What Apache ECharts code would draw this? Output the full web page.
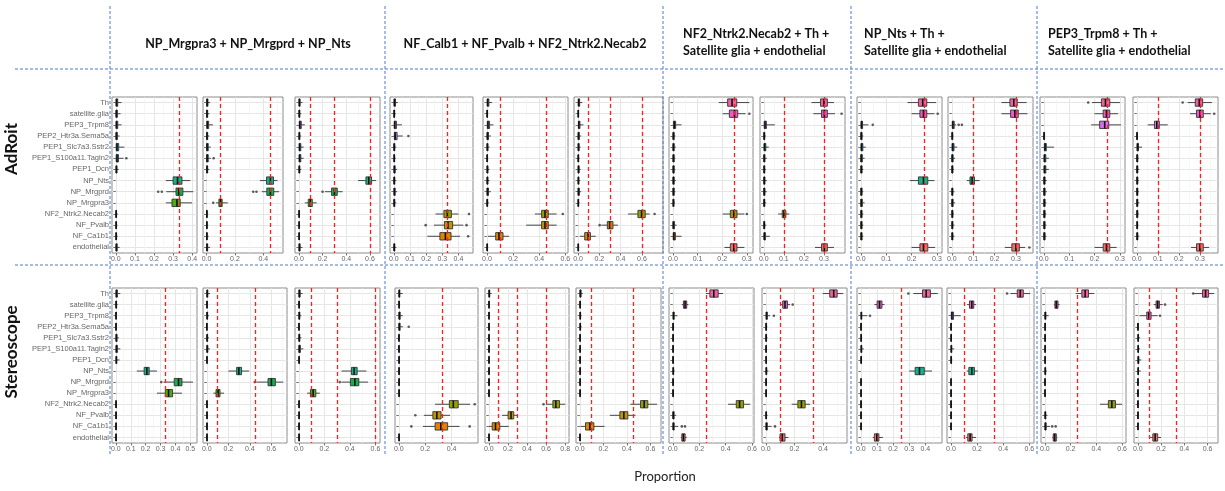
<!DOCTYPE html>
<html><head><meta charset="utf-8">
<script src="https://cdn.jsdelivr.net/npm/echarts@6/dist/echarts.min.js"></script>
<style>html,body{margin:0;padding:0;background:#fff}#c{width:1225px;height:491px}</style>
</head><body><div id="c"></div>
<script>
// ---------------- DATA ----------------
const cellTypes = ['Th','satellite.glia','PEP3_Trpm8','PEP2_Htr3a.Sema5a','PEP1_Slc7a3.Sstr2','PEP1_S100a11.Tagln2','PEP1_Dcn','NP_Nts','NP_Mrgprd','NP_Mrgpra3','NF2_Ntrk2.Necab2','NF_Pvalb','NF_Ca1b1','endothelial'];
const rowNames = ['AdRoit','Stereoscope'];
const groupTitles = [
  'NP_Mrgpra3 + NP_Mrgprd + NP_Nts',
  'NF_Calb1 + NF_Pvalb + NF2_Ntrk2.Necab2',
  'NF2_Ntrk2.Necab2 + Th +\nSatellite glia + endothelial',
  'NP_Nts + Th +\nSatellite glia + endothelial',
  'PEP3_Trpm8 + Th +\nSatellite glia + endothelial'
];
const axisTitle = 'Proportion';

// five-number summaries [min, Q1, median, Q3, max], rows top→bottom in cellTypes order
const adroitP1 = [[0,0.001,0.004,0.01,0.03],[0,0.001,0.003,0.008,0.025],[0,0.001,0.004,0.01,0.03],[0,0.001,0.003,0.008,0.02],[0,0.002,0.006,0.015,0.045],[0,0.002,0.006,0.014,0.04],[0,0.001,0.003,0.006,0.015],[0.262,0.30,0.323,0.346,0.39],[0.264,0.315,0.329,0.351,0.405],[0.262,0.294,0.32,0.337,0.399],[0,0,0.002,0.004,0.01],[0,0,0.002,0.004,0.008],[0,0,0.002,0.004,0.01],[0,0.001,0.003,0.007,0.02]];
const adroitP2 = [[0,0.001,0.004,0.01,0.025],[0,0.001,0.003,0.008,0.02],[0,0.002,0.006,0.015,0.045],[0,0.001,0.003,0.008,0.02],[0,0.001,0.004,0.012,0.03],[0,0.001,0.004,0.012,0.03],[0,0.001,0.003,0.008,0.02],[0.376,0.423,0.45,0.472,0.5],[0.39,0.425,0.45,0.474,0.512],[0.066,0.087,0.099,0.11,0.15],[0,0,0.002,0.005,0.012],[0,0,0.002,0.005,0.012],[0,0,0.002,0.005,0.015],[0,0.001,0.003,0.008,0.025]];
const adroitP3 = [[0,0.001,0.004,0.01,0.03],[0,0.001,0.003,0.008,0.02],[0,0.003,0.008,0.02,0.05],[0,0.001,0.003,0.008,0.02],[0,0.002,0.006,0.016,0.04],[0,0.002,0.006,0.016,0.04],[0,0.001,0.003,0.008,0.02],[0.50,0.566,0.59,0.614,0.652],[0.22,0.276,0.3,0.324,0.369],[0.05,0.079,0.096,0.113,0.15],[0,0,0.002,0.004,0.01],[0,0,0.002,0.004,0.01],[0,0,0.002,0.004,0.01],[0,0.001,0.004,0.01,0.03]];
const adroitP4 = [[0,0.001,0.004,0.01,0.025],[0,0,0.002,0.005,0.012],[0,0.002,0.006,0.016,0.05],[0,0.003,0.008,0.02,0.055],[0,0,0.002,0.006,0.015],[0,0,0.002,0.005,0.012],[0,0.001,0.003,0.008,0.02],[0,0,0.002,0.006,0.015],[0,0.001,0.003,0.008,0.02],[0,0,0.002,0.006,0.015],[0.258,0.31,0.331,0.356,0.4],[0.248,0.313,0.335,0.364,0.43],[0.207,0.285,0.319,0.354,0.41],[0,0,0.002,0.006,0.015]];
const adroitP5 = [[0,0.002,0.006,0.015,0.04],[0,0,0.002,0.005,0.01],[0,0.003,0.008,0.02,0.05],[0,0.001,0.004,0.012,0.03],[0,0.001,0.003,0.008,0.02],[0,0,0.002,0.005,0.01],[0,0.001,0.003,0.008,0.02],[0,0.001,0.003,0.008,0.02],[0,0.001,0.004,0.012,0.03],[0,0,0.002,0.006,0.015],[0.367,0.418,0.444,0.469,0.533],[0.30,0.418,0.444,0.469,0.533],[0.008,0.067,0.092,0.123,0.169],[0,0,0.002,0.005,0.01]];
const adroitP6 = [[0,0.002,0.006,0.015,0.04],[0,0,0.002,0.005,0.01],[0,0.003,0.008,0.018,0.05],[0,0.001,0.004,0.012,0.03],[0,0.001,0.004,0.01,0.025],[0,0,0.002,0.006,0.015],[0,0.001,0.004,0.01,0.025],[0,0.001,0.003,0.008,0.02],[0,0.001,0.004,0.012,0.03],[0,0,0.002,0.006,0.015],[0.469,0.5625,0.597,0.631,0.672],[0.219,0.275,0.297,0.328,0.375],[0.016,0.0625,0.094,0.116,0.166],[0,0,0.002,0.005,0.01]];
const adroitP7 = [[0.186,0.222,0.24,0.259,0.31],[0.202,0.229,0.25,0.263,0.295],[0,0.002,0.006,0.011,0.035],[0,0,0.002,0.005,0.01],[0,0,0.002,0.005,0.012],[0,0,0.002,0.005,0.01],[0,0,0.002,0.005,0.01],[0,0,0.002,0.005,0.012],[0,0,0.002,0.005,0.01],[0,0,0.002,0.004,0.008],[0.202,0.233,0.247,0.26,0.29],[0,0,0.002,0.006,0.015],[0,0.001,0.004,0.01,0.035],[0.209,0.233,0.247,0.26,0.29]];
const adroitP8 = [[0.238,0.283,0.3,0.317,0.35],[0.247,0.288,0.302,0.317,0.355],[0,0.002,0.006,0.013,0.055],[0,0,0.002,0.005,0.01],[0,0.001,0.004,0.01,0.025],[0,0,0.002,0.006,0.015],[0,0,0.002,0.005,0.01],[0,0,0.002,0.006,0.015],[0,0,0.002,0.006,0.015],[0,0,0.002,0.005,0.012],[0.072,0.092,0.1,0.11,0.127],[0,0,0.002,0.005,0.012],[0,0.001,0.003,0.008,0.03],[0.255,0.288,0.302,0.317,0.35]];
const adroitP9 = [[0.184,0.227,0.244,0.26,0.297],[0.2,0.233,0.247,0.26,0.29],[0,0.001,0.003,0.007,0.03],[0,0,0.002,0.005,0.01],[0,0.001,0.003,0.008,0.02],[0,0,0.002,0.006,0.015],[0,0,0.002,0.005,0.01],[0.193,0.227,0.247,0.264,0.29],[0,0,0.002,0.005,0.01],[0,0,0.002,0.006,0.015],[0,0,0.002,0.005,0.01],[0,0,0.002,0.005,0.01],[0,0,0.002,0.005,0.01],[0.2,0.233,0.247,0.264,0.293]];
const adroitP10 = [[0.232,0.272,0.29,0.306,0.35],[0.232,0.275,0.295,0.311,0.354],[0,0.002,0.005,0.011,0.02],[0,0,0.002,0.004,0.008],[0,0.001,0.004,0.01,0.025],[0,0,0.002,0.006,0.015],[0,0,0.002,0.005,0.01],[0.07,0.085,0.095,0.106,0.13],[0,0,0.002,0.005,0.012],[0,0,0.002,0.006,0.015],[0,0,0.002,0.005,0.01],[0,0,0.002,0.005,0.012],[0,0,0.002,0.005,0.012],[0.248,0.281,0.3,0.316,0.343]];
const adroitP11 = [[0.19,0.227,0.243,0.26,0.3],[0.2,0.234,0.247,0.26,0.293],[0.187,0.22,0.24,0.256,0.304],[0,0,0.001,0.003,0.005],[0,0.002,0.005,0.01,0.04],[0,0.001,0.003,0.008,0.02],[0,0.001,0.003,0.008,0.02],[0,0,0.002,0.005,0.012],[0,0,0.002,0.005,0.012],[0,0,0.002,0.005,0.01],[0,0,0.002,0.005,0.01],[0,0,0.002,0.005,0.01],[0,0,0.002,0.005,0.01],[0.2,0.234,0.247,0.26,0.287]];
const adroitP12 = [[0.242,0.278,0.297,0.313,0.357],[0.253,0.284,0.3,0.316,0.352],[0.052,0.084,0.095,0.107,0.147],[0,0,0.001,0.003,0.005],[0,0.001,0.004,0.008,0.025],[0,0,0.002,0.005,0.01],[0,0,0.002,0.005,0.012],[0,0,0.002,0.005,0.01],[0,0,0.002,0.005,0.01],[0,0,0.002,0.005,0.012],[0,0,0.002,0.005,0.01],[0,0,0.002,0.004,0.008],[0,0,0.002,0.005,0.012],[0.258,0.284,0.3,0.316,0.344]];

const stereoP1 = [[0,0.001,0.004,0.01,0.03],[0,0,0.002,0.005,0.012],[0,0,0.001,0.003,0.005],[0,0,0.001,0.003,0.005],[0,0.001,0.003,0.008,0.02],[0,0.001,0.004,0.01,0.03],[0,0.001,0.003,0.006,0.025],[0.141,0.19,0.208,0.224,0.276],[0.32,0.392,0.421,0.444,0.518],[0.276,0.332,0.354,0.381,0.444],[0,0,0.001,0.003,0.005],[0,0,0.001,0.003,0.005],[0,0,0.001,0.003,0.005],[0,0,0.001,0.003,0.005]];
const stereoP2 = [[0,0.001,0.004,0.01,0.03],[0,0,0.002,0.005,0.012],[0,0.001,0.003,0.008,0.02],[0,0,0.001,0.003,0.005],[0,0.001,0.003,0.008,0.02],[0,0.001,0.004,0.01,0.03],[0,0,0.002,0.005,0.01],[0.2,0.277,0.298,0.323,0.394],[0.46,0.569,0.6,0.637,0.71],[0.062,0.086,0.105,0.123,0.16],[0,0,0.002,0.005,0.01],[0,0,0.002,0.005,0.01],[0,0,0.002,0.005,0.01],[0,0,0.002,0.005,0.01]];
const stereoP3 = [[0,0.001,0.004,0.01,0.03],[0,0,0.002,0.005,0.012],[0,0.001,0.003,0.008,0.02],[0,0,0.001,0.003,0.005],[0,0.001,0.003,0.008,0.02],[0,0.001,0.004,0.012,0.035],[0,0,0.002,0.005,0.01],[0.334,0.412,0.433,0.457,0.53],[0.334,0.404,0.439,0.47,0.543],[0.065,0.091,0.112,0.133,0.164],[0,0,0.002,0.005,0.01],[0,0,0.002,0.005,0.01],[0,0,0.002,0.005,0.01],[0,0,0.002,0.005,0.01]];
const stereoP4 = [[0,0.001,0.003,0.008,0.03],[0,0,0.002,0.005,0.01],[0,0.001,0.004,0.01,0.03],[0,0.001,0.003,0.01,0.03],[0,0,0.001,0.003,0.005],[0,0,0.001,0.003,0.005],[0,0,0.002,0.004,0.008],[0,0,0.002,0.004,0.008],[0,0,0.002,0.004,0.008],[0,0,0.002,0.004,0.008],[0.275,0.383,0.413,0.45,0.54],[0.19,0.258,0.288,0.32,0.388],[0.183,0.275,0.318,0.37,0.46],[0,0,0.002,0.004,0.008]];
const stereoP5 = [[0,0.001,0.004,0.01,0.03],[0,0,0.002,0.005,0.01],[0,0,0.002,0.005,0.01],[0,0,0.002,0.005,0.01],[0,0,0.002,0.004,0.008],[0,0,0.002,0.004,0.008],[0,0,0.002,0.004,0.008],[0,0,0.002,0.004,0.008],[0,0,0.002,0.004,0.008],[0,0,0.002,0.004,0.008],[0.6,0.671,0.702,0.741,0.8],[0.139,0.202,0.233,0.261,0.303],[0,0.035,0.07,0.115,0.209],[0,0,0.002,0.004,0.008]];
const stereoP6 = [[0,0.001,0.004,0.01,0.025],[0,0,0.002,0.005,0.01],[0,0.001,0.003,0.006,0.015],[0,0.001,0.003,0.006,0.015],[0,0,0.002,0.004,0.008],[0,0,0.002,0.004,0.008],[0,0,0.002,0.004,0.008],[0,0,0.002,0.005,0.01],[0,0,0.002,0.004,0.008],[0,0,0.002,0.004,0.008],[0.43,0.516,0.547,0.578,0.657],[0.255,0.34,0.374,0.408,0.473],[0.006,0.048,0.085,0.119,0.21],[0,0,0.001,0.003,0.005]];
const stereoP7 = [[0.25,0.28,0.31,0.343,0.38],[0.068,0.08,0.0925,0.105,0.118],[0,0.002,0.005,0.01,0.035],[0,0,0.002,0.005,0.01],[0,0,0.002,0.004,0.008],[0,0,0.002,0.004,0.008],[0,0,0.002,0.004,0.008],[0,0.001,0.003,0.006,0.015],[0,0,0.002,0.004,0.008],[0,0,0.002,0.004,0.008],[0.418,0.48,0.505,0.535,0.585],[0,0.001,0.003,0.01,0.025],[0,0.001,0.004,0.01,0.04],[0.06,0.068,0.08,0.093,0.105]];
const stereoP8 = [[0.398,0.447,0.475,0.499,0.541],[0.099,0.118,0.134,0.151,0.169],[0,0.002,0.005,0.01,0.03],[0,0,0.002,0.005,0.01],[0,0,0.002,0.005,0.012],[0,0,0.002,0.004,0.008],[0,0,0.002,0.004,0.008],[0,0.001,0.003,0.006,0.018],[0,0,0.002,0.004,0.008],[0,0,0.002,0.004,0.008],[0.181,0.224,0.249,0.275,0.31],[0,0,0.002,0.005,0.012],[0,0.001,0.004,0.01,0.04],[0.092,0.099,0.115,0.134,0.158]];
const stereoP9 = [[0.326,0.383,0.406,0.432,0.478],[0.084,0.101,0.116,0.131,0.147],[0,0.001,0.003,0.005,0.04],[0,0,0.001,0.003,0.005],[0,0,0.002,0.004,0.008],[0,0.001,0.003,0.005,0.018],[0,0,0.002,0.004,0.008],[0.301,0.337,0.364,0.394,0.442],[0,0,0.001,0.003,0.005],[0,0,0.001,0.003,0.005],[0,0,0.001,0.003,0.005],[0,0,0.001,0.003,0.005],[0,0,0.001,0.003,0.005],[0.074,0.084,0.099,0.112,0.137]];
const stereoP10 = [[0.456,0.508,0.531,0.554,0.606],[0.124,0.142,0.16,0.175,0.193],[0,0.003,0.008,0.02,0.075],[0,0,0.001,0.003,0.005],[0,0,0.002,0.004,0.008],[0,0.001,0.003,0.006,0.025],[0,0,0.002,0.005,0.01],[0.121,0.137,0.16,0.18,0.206],[0,0,0.001,0.003,0.005],[0,0,0.001,0.003,0.005],[0,0,0.001,0.003,0.005],[0,0,0.001,0.003,0.005],[0,0,0.001,0.003,0.005],[0.116,0.129,0.147,0.162,0.193]];
const stereoP11 = [[0.24,0.287,0.313,0.339,0.384],[0.07,0.078,0.089,0.102,0.115],[0,0.001,0.003,0.008,0.03],[0,0,0.002,0.004,0.008],[0,0,0.002,0.004,0.008],[0,0,0.002,0.004,0.008],[0,0,0.002,0.004,0.008],[0,0.001,0.003,0.006,0.015],[0,0,0.001,0.003,0.005],[0,0,0.001,0.003,0.005],[0.428,0.493,0.52,0.548,0.6],[0,0.001,0.003,0.007,0.02],[0,0.001,0.004,0.01,0.04],[0.057,0.065,0.076,0.089,0.097]];
const stereoP12 = [[0.486,0.557,0.583,0.609,0.657],[0.137,0.157,0.171,0.186,0.214],[0.014,0.077,0.094,0.114,0.171],[0,0,0.001,0.003,0.005],[0,0.001,0.003,0.006,0.02],[0,0.001,0.003,0.006,0.02],[0,0.001,0.004,0.008,0.03],[0,0.001,0.003,0.006,0.025],[0,0,0.001,0.003,0.005],[0,0,0.001,0.003,0.005],[0,0,0.001,0.003,0.005],[0,0,0.001,0.003,0.005],[0,0,0.001,0.003,0.005],[0.106,0.129,0.149,0.171,0.2]];

// outliers per panel: [cellTypeIndex, value]
const adroitOutliers = [
  [[5,0.055],[8,0.241],[8,0.222]],
  [[5,0.05],[8,0.329],[8,0.352],[9,0.047]],
  [[8,0.2]],
  [[3,0.09],[10,0.465],[11,0.197],[11,0.45],[12,0.46]],
  [[10,0.58]],
  [[10,0.719],[11,0.203]],
  [[1,0.31],[10,0.3]],
  [[1,0.388]],
  [[1,0.303],[2,0.047]],
  [[2,0.032],[2,0.047],[13,0.363]],
  [[0,0.175]],
  [[0,0.218],[1,0.368]]
];
const stereoOutliers = [
  [[8,0.305]],
  [[8,0.446]],
  [[8,0.321]],
  [[3,0.075],[10,0.575],[11,0.125],[12,0.095],[12,0.537]],
  [[10,0.573]],
  [],
  [[12,0.068],[12,0.092]],
  [[1,0.188],[2,0.056],[12,0.064]],
  [[0,0.295],[2,0.057]],
  [[0,0.43]],
  [[12,0.057],[12,0.084]],
  [[0,0.477],[1,0.234],[2,0.191]]
];

// true proportions (red dashed lines)
const adroitTruth = [[0.333],[0.1,0.45],[0.1,0.3,0.6],[0.333],[0.1,0.45],[0.1,0.3,0.6],[0.25],[0.1,0.3],[0.25],[0.1,0.3],[0.25],[0.1,0.3]];
const stereoTruth = [[0.333],[0.1,0.45],[0.1,0.3,0.6],[0.333],[0.1,0.3,0.6],[0.1,0.45],[0.25],[0.1,0.333],[0.25],[0.1,0.333],[0.25],[0.1,0.333]];

// x tick labels per panel
const adroitTicks = [[0,0.1,0.2,0.3,0.4],[0,0.2,0.4],[0,0.2,0.4,0.6],[0,0.1,0.2,0.3,0.4],[0,0.2,0.4,0.6],[0,0.2,0.4,0.6],[0,0.1,0.2,0.3],[0,0.1,0.2,0.3],[0,0.1,0.2,0.3],[0,0.1,0.2,0.3],[0,0.1,0.2,0.3],[0,0.1,0.2,0.3]];
const stereoTicks = [[0,0.1,0.2,0.3,0.4,0.5],[0,0.2,0.4,0.6],[0,0.2,0.4,0.6],[0,0.2,0.4],[0,0.2,0.4,0.6,0.8],[0,0.2,0.4,0.6],[0,0.2,0.4,0.6],[0,0.2,0.4],[0,0.1,0.2,0.3,0.4],[0,0.2,0.4,0.6],[0,0.2,0.4,0.6],[0,0.2,0.4,0.6]];
// x axis limits per panel
const adroitLimits = [[-0.02,0.425],[-0.025,0.539],[-0.033,0.685],[-0.024,0.49],[-0.03,0.62],[-0.038,0.798],[-0.016,0.325],[-0.019,0.405],[-0.015,0.32],[-0.018,0.38],[-0.015,0.32],[-0.018,0.386]];
const stereoLimits = [[-0.026,0.545],[-0.035,0.745],[-0.03,0.636],[-0.029,0.6],[-0.04,0.84],[-0.033,0.69],[-0.029,0.614],[-0.027,0.568],[-0.024,0.504],[-0.03,0.636],[-0.03,0.63],[-0.033,0.69]];

const adroitPanels = [adroitP1,adroitP2,adroitP3,adroitP4,adroitP5,adroitP6,adroitP7,adroitP8,adroitP9,adroitP10,adroitP11,adroitP12];
const stereoPanels = [stereoP1,stereoP2,stereoP3,stereoP4,stereoP5,stereoP6,stereoP7,stereoP8,stereoP9,stereoP10,stereoP11,stereoP12];

// ---------------- LAYOUT / STYLE ----------------
const palette = ['#F35FA0','#EC5ACB','#D76DEE','#A58AFF','#06A4FF','#00B6EB','#00BFC4','#13B48C','#12B050','#53AA10','#94A000','#C29400','#E08500','#F0706A'];
const panelX = [
  [[112,197],[203,283],[295,380],[390,473],[483,568],[574,663],[669,753],[760,845],[857,942],[948,1033],[1040,1125],[1133,1218]],
  [[112,197],[203,287],[295,380],[395,478],[485,569],[576,661],[669,754],[762,847],[857,942],[947,1034],[1041,1126],[1134,1218]]
];
const rowY = [[97,253],[288,443]];
const FONT_AX = 'Liberation Sans';
const FONT_TXT = 'Lato';

function renderBox(params, api) {
  const ci = api.value(0);
  const pMin = api.coord([api.value(1), ci]);
  const pQ1 = api.coord([api.value(2), ci]);
  const pMed = api.coord([api.value(3), ci]);
  const pQ3 = api.coord([api.value(4), ci]);
  const pMax = api.coord([api.value(5), ci]);
  const band = api.size([0, 1])[1];
  const h = band * 0.33;
  const y = pMed[1];
  return {type: 'group', children: [
    {type: 'line', shape: {x1: pMin[0], y1: y, x2: pQ1[0], y2: y}, style: {stroke: '#333', lineWidth: 0.9}},
    {type: 'line', shape: {x1: pQ3[0], y1: y, x2: pMax[0], y2: y}, style: {stroke: '#333', lineWidth: 0.9}},
    {type: 'rect', shape: {x: pQ1[0], y: y - h, width: pQ3[0] - pQ1[0], height: 2 * h}, style: {fill: palette[ci], stroke: '#333', lineWidth: 0.9}},
    {type: 'line', shape: {x1: pMed[0], y1: y - h, x2: pMed[0], y2: y + h}, style: {stroke: '#111', lineWidth: 1.6}}
  ]};
}

const grids = [], xAxes = [], yAxes = [], series = [];
const allPanels = [adroitPanels, stereoPanels];
const allOutliers = [adroitOutliers, stereoOutliers];
const allTruth = [adroitTruth, stereoTruth];
const allTicks = [adroitTicks, stereoTicks];
const allLimits = [adroitLimits, stereoLimits];

let gi = 0;
for (let r = 0; r < 2; r++) {
  for (let p = 0; p < 12; p++) {
    const [l, rt] = panelX[r][p];
    grids.push({left: l, top: rowY[r][0], width: rt - l, height: rowY[r][1] - rowY[r][0],
      show: true, borderColor: '#8c8c8c', borderWidth: 1, backgroundColor: '#fff', containLabel: false});
    const lim = allLimits[r][p];
    const ticks = allTicks[r][p];
    const step = ticks[1] - ticks[0];
    const minors = ticks.map(t => +(t + step / 2).toFixed(3)).filter(v => v < lim[1]);
    xAxes.push({type: 'value', gridIndex: gi, min: lim[0], max: lim[1], position: 'bottom',
      axisLine: {show: false},
      axisTick: {show: true, customValues: ticks, length: 2.5, lineStyle: {color: '#555', width: 0.8}},
      axisLabel: {show: true, customValues: ticks, formatter: v => v.toFixed(1), fontSize: 7, color: '#666', margin: 3, fontFamily: FONT_AX, hideOverlap: false},
      splitLine: {show: true, lineStyle: {color: '#e3e3e3', width: 0.9}}});
    xAxes.push({type: 'value', gridIndex: gi, min: lim[0], max: lim[1], position: 'top',
      axisLine: {show: false}, axisTick: {show: false, customValues: minors}, axisLabel: {show: false, customValues: minors},
      splitLine: {show: true, lineStyle: {color: '#f1f1f1', width: 0.6}}});
    yAxes.push({type: 'category', gridIndex: gi, data: cellTypes, inverse: true,
      axisLine: {show: false},
      axisTick: {show: true, alignWithLabel: true, length: 2.5, lineStyle: {color: '#555', width: 0.8}},
      axisLabel: {show: p === 0, fontSize: 7.5, color: '#666', margin: 3, fontFamily: FONT_AX, interval: 0},
      splitLine: {show: true, alignWithLabel: true, lineStyle: {color: '#e3e3e3', width: 0.9}}});
    const boxes = allPanels[r][p];
    series.push({type: 'custom', xAxisIndex: 2 * gi, yAxisIndex: gi, renderItem: renderBox,
      dimensions: ['cat','min','q1','med','q3','max'],
      encode: {x: [1,2,3,4,5], y: 0},
      data: boxes.map((b, i) => [i, b[0], b[1], b[2], b[3], b[4]]), z: 2, silent: true});
    series.push({type: 'scatter', xAxisIndex: 2 * gi, yAxisIndex: gi,
      data: allOutliers[r][p].map(([ci, v]) => [v, ci]), symbolSize: 2.6,
      itemStyle: {color: '#333'}, z: 3, silent: true,
      markLine: {silent: true, symbol: ['none','none'], label: {show: false},
        lineStyle: {color: '#ff1f1f', type: [4, 3], width: 1.3},
        data: allTruth[r][p].map(v => ({xAxis: v}))}});
    gi++;
  }
}

// separators and texts (layout decoration)
const sepStyle = {stroke: '#4f7bd1', lineWidth: 1, lineDash: [3, 2]};
const graphic = [];
[110, 385, 663, 851, 1037].forEach(x => graphic.push({type: 'line', silent: true, z: 10, shape: {x1: x, y1: 6, x2: x, y2: 455}, style: sepStyle}));
[69, 265].forEach(y => graphic.push({type: 'line', silent: true, z: 10, shape: {x1: 15, y1: y, x2: 1225, y2: y}, style: sepStyle}));
const titlePos = [[248, 44, 'center'], [525, 44, 'center'], [683, 42, 'left'], [864, 42, 'left'], [1048, 42, 'left']];
groupTitles.forEach((t, i) => graphic.push({type: 'text', silent: true, x: titlePos[i][0], y: titlePos[i][1],
  style: {text: t, font: 'bold 12.5px ' + FONT_TXT, fill: '#111', align: titlePos[i][2], verticalAlign: 'middle', lineHeight: 17}}));
const rowLabelY = [149, 352];
rowNames.forEach((t, i) => graphic.push({type: 'text', silent: true, x: 12, y: rowLabelY[i], rotation: Math.PI / 2,
  style: {text: t, font: 'bold 17px ' + FONT_TXT, fill: '#111', align: 'center', verticalAlign: 'middle'}}));
graphic.push({type: 'text', silent: true, x: 665, y: 477, style: {text: axisTitle, font: '13px ' + FONT_TXT, fill: '#222', align: 'center', verticalAlign: 'middle'}});

const chart = echarts.init(document.getElementById('c'), null, {renderer: 'canvas'});
chart.setOption({
  animation: false,
  backgroundColor: '#fff',
  grid: grids, xAxis: xAxes, yAxis: yAxes, series: series, graphic: graphic
});
</script></body></html>
